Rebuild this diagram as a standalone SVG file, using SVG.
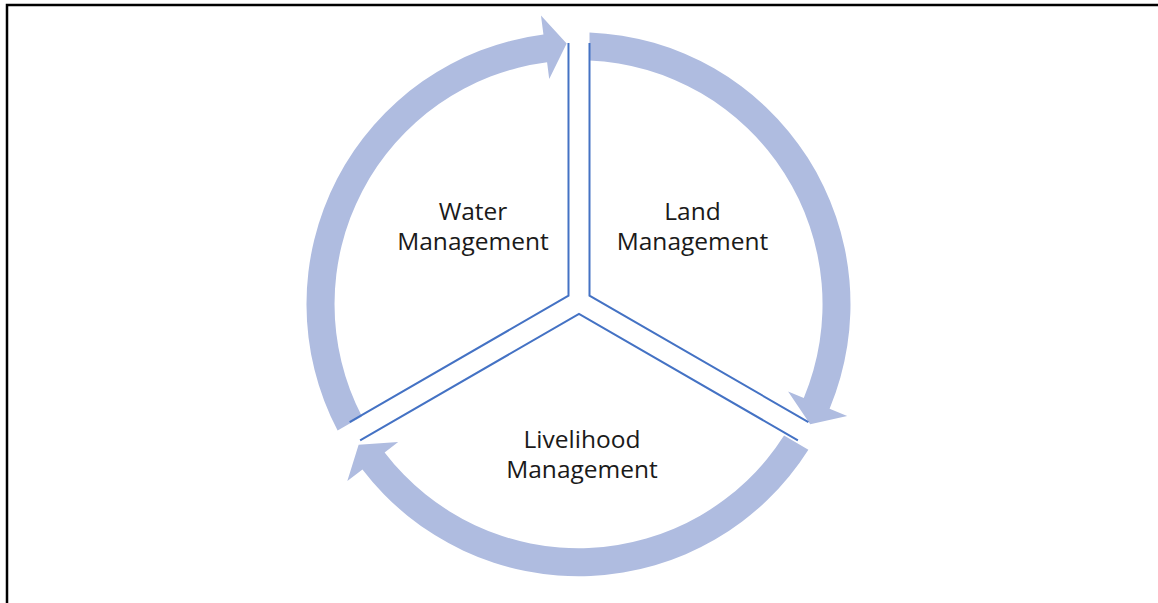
<svg xmlns="http://www.w3.org/2000/svg" width="1158" height="603" viewBox="0 0 1158 603">
  <style>
    .frame { fill: none; stroke: #000000; stroke-width: 2.5; }
    .band { fill: #AFBCE0; stroke: none; }
    .divider { fill: none; stroke: #4472C4; stroke-width: 2; stroke-linejoin: miter; }
    .label { font-family: "Open Sans", "Liberation Sans", sans-serif; font-size: 24.5px; fill: #1a1a1a; text-anchor: middle; }
  </style>
  <defs>
    <!-- One circular-arrow segment spanning 0..120 degrees, ending in a head -->
    <path id="seg" d="M 589.5 32.4 A 272 272 0 0 1 829.6 408.7 L 847.2 416.0 L 810.2 424.3 L 788.1 391.4 L 803.8 398.0 A 244 244 0 0 0 589.5 60.5 Z"/>
    <!-- Outline of one sector wedge (two edges meeting near the centre) -->
    <path id="wedge" d="M 589.5 43 L 589.5 295.74 L 808.4 422.1"/>
  </defs>

  <rect x="0" y="0" width="1158" height="603" fill="#ffffff"/>
  <path class="frame" d="M 7 603 V 5 H 1158"/>

  <g id="cycle-arrows">
    <use href="#seg" class="band"/>
    <use href="#seg" class="band" transform="rotate(120 578.5 304.2)"/>
    <use href="#seg" class="band" transform="rotate(240 578.5 304.2)"/>
  </g>

  <g id="connectors">
    <use href="#wedge" class="divider"/>
    <use href="#wedge" class="divider" transform="rotate(120 579 301.8)"/>
    <use href="#wedge" class="divider" transform="rotate(240 579 301.8)"/>
  </g>

  <g id="water-management">
    <text class="label" x="473" y="220">Water</text>
    <text class="label" x="473" y="250">Management</text>
  </g>

  <g id="land-management">
    <text class="label" x="692.5" y="220">Land</text>
    <text class="label" x="692.5" y="250">Management</text>
  </g>

  <g id="livelihood-management">
    <text class="label" x="582" y="448">Livelihood</text>
    <text class="label" x="582" y="478">Management</text>
  </g>
</svg>
